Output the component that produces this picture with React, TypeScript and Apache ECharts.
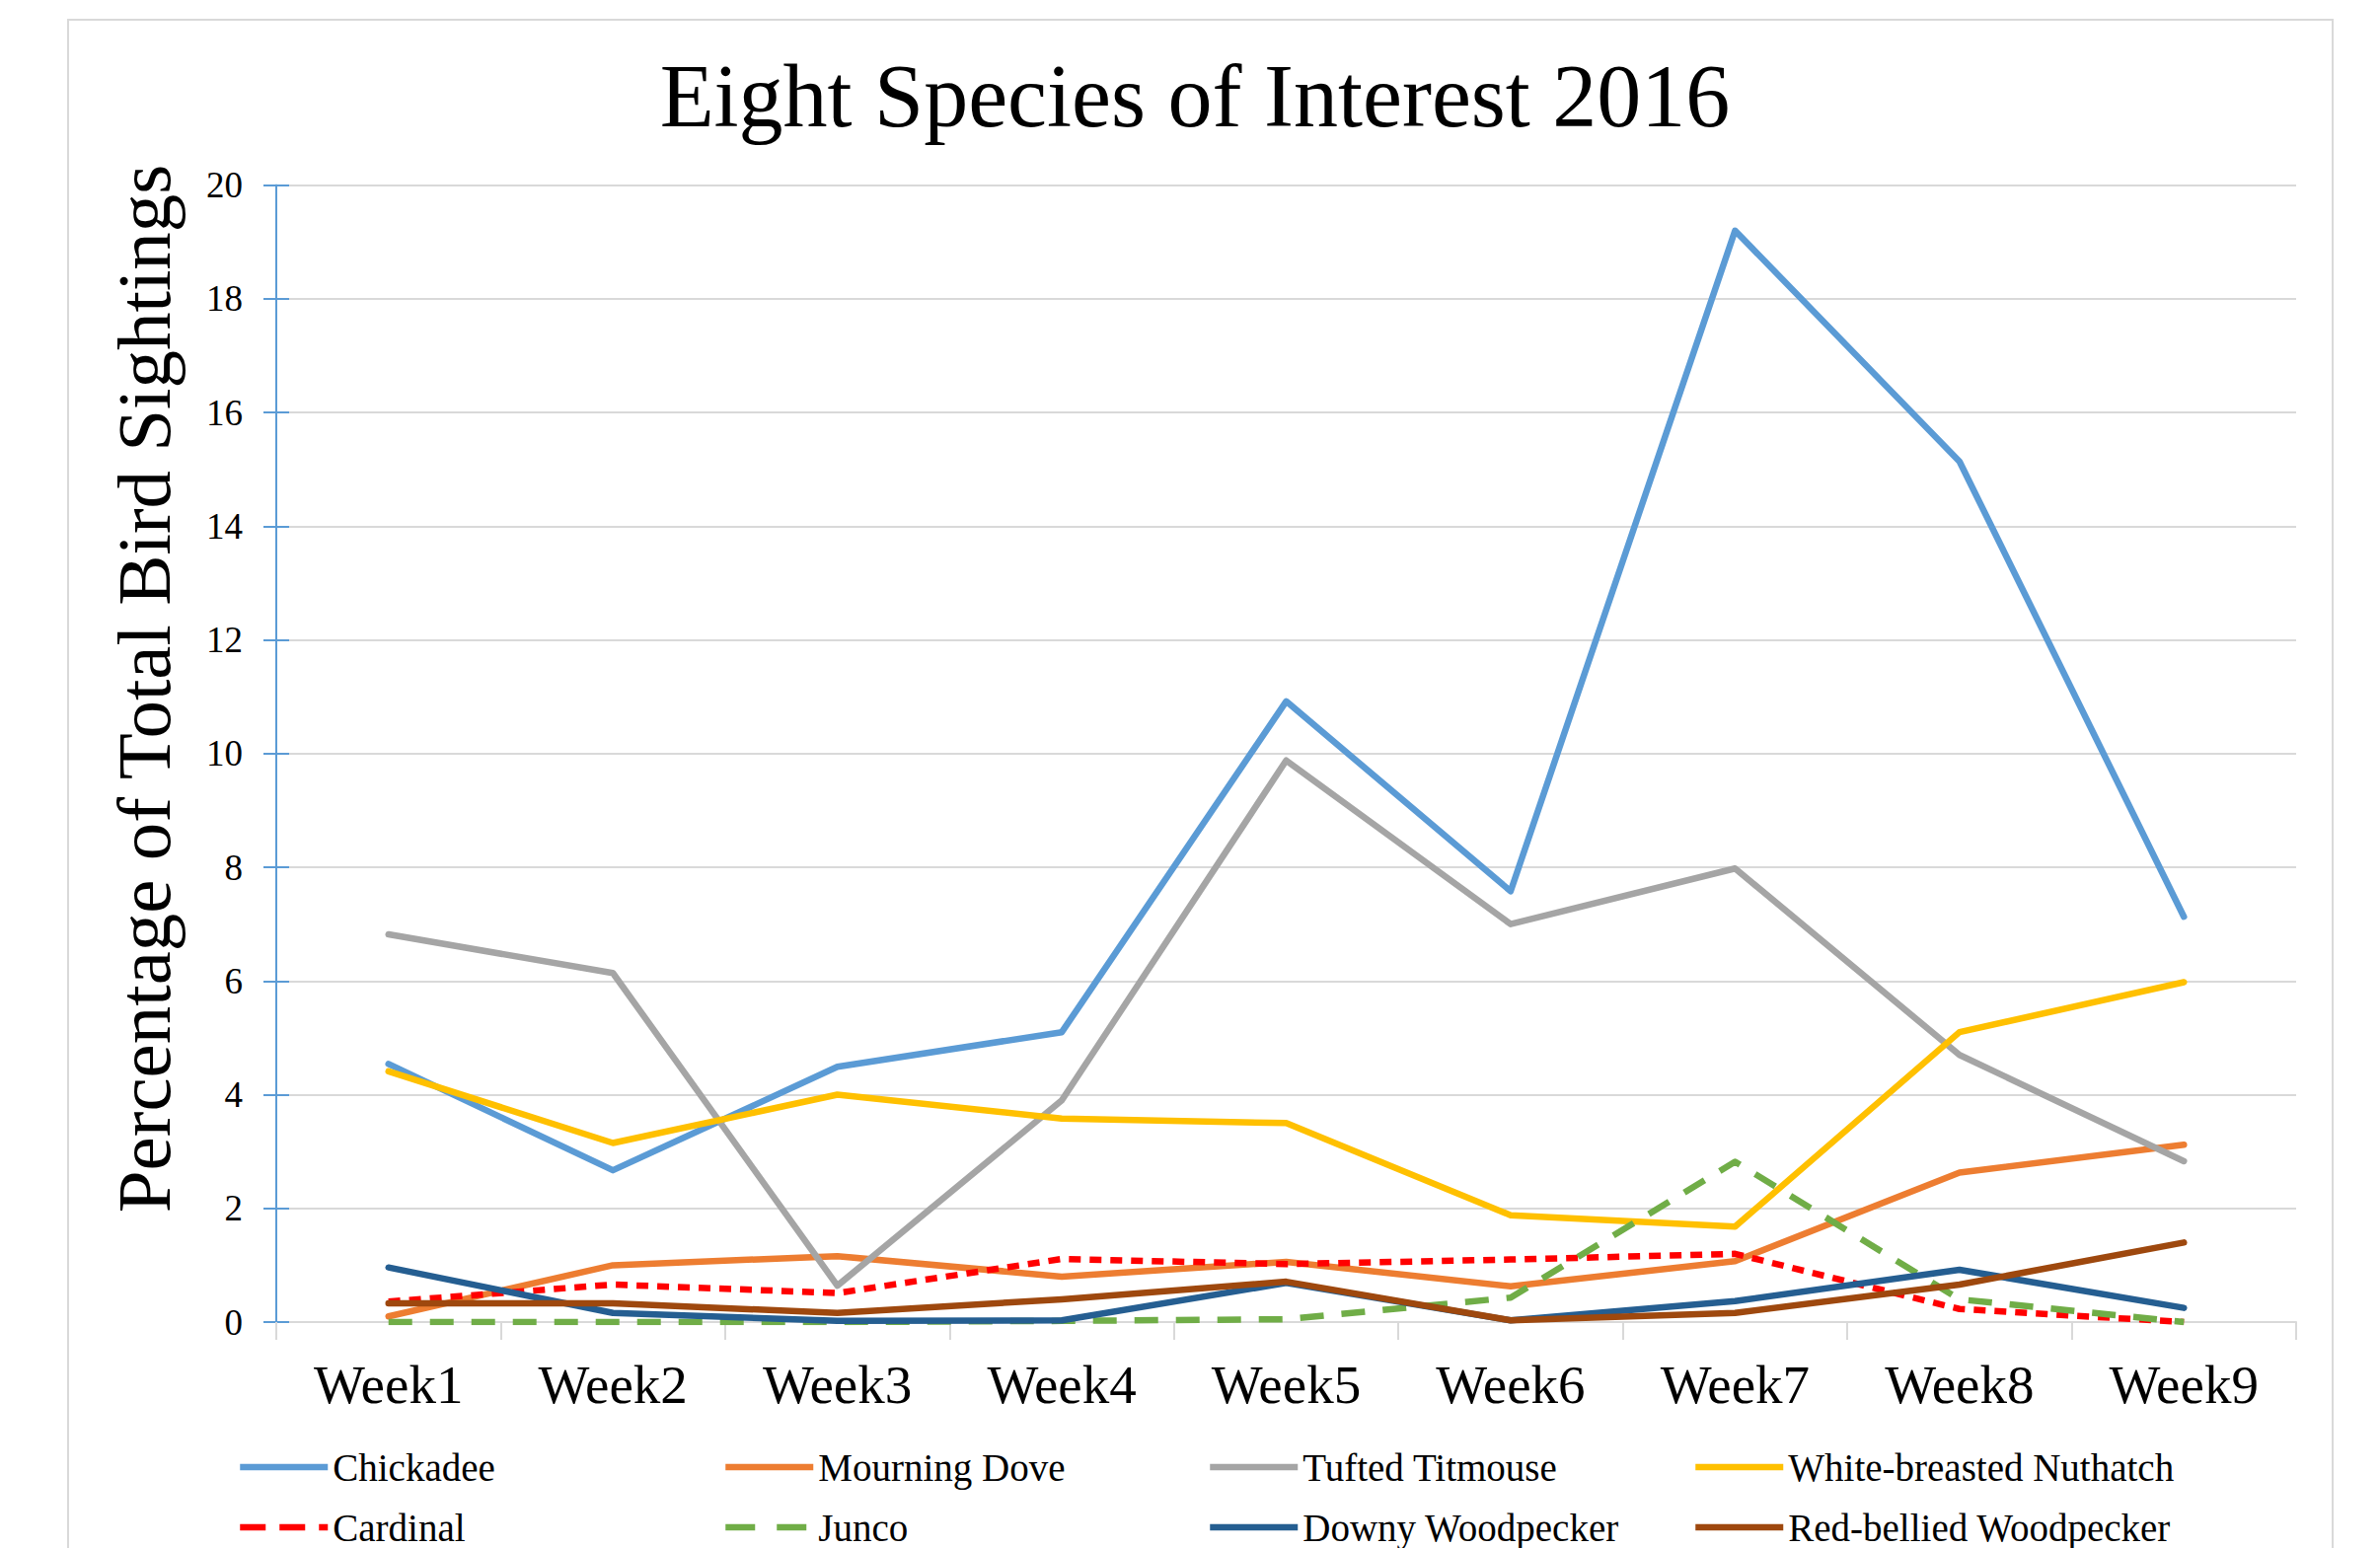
import React, { useEffect, useRef } from "react";
import * as echarts from "echarts";

const weeks = ["Week1", "Week2", "Week3", "Week4", "Week5", "Week6", "Week7", "Week8", "Week9"];
const yTicks = [0, 2, 4, 6, 8, 10, 12, 14, 16, 18, 20];

const chickadee = [4.54, 2.67, 4.49, 5.1, 10.92, 7.58, 19.2, 15.14, 7.13];
const mourningDove = [0.1, 1.0, 1.16, 0.8, 1.06, 0.63, 1.07, 2.63, 3.12];
const tuftedTitmouse = [6.82, 6.14, 0.64, 3.9, 9.88, 7.0, 7.98, 4.7, 2.83];
const nuthatch = [4.41, 3.15, 4.0, 3.58, 3.5, 1.88, 1.68, 5.1, 5.98];
const cardinal = [0.36, 0.66, 0.51, 1.11, 1.02, 1.1, 1.2, 0.23, 0.0];
const junco = [0, 0, 0, 0.02, 0.05, 0.43, 2.82, 0.4, 0];
const downyWoodpecker = [0.96, 0.16, 0.02, 0.03, 0.69, 0.03, 0.37, 0.92, 0.25];
const redBelliedWoodpecker = [0.33, 0.33, 0.16, 0.4, 0.71, 0.03, 0.16, 0.66, 1.4];

const seriesNames = [
  "Chickadee",
  "Mourning Dove",
  "Tufted Titmouse",
  "White-breasted Nuthatch",
  "Cardinal",
  "Junco",
  "Downy Woodpecker",
  "Red-bellied Woodpecker",
];
const seriesData = [
  chickadee,
  mourningDove,
  tuftedTitmouse,
  nuthatch,
  cardinal,
  junco,
  downyWoodpecker,
  redBelliedWoodpecker,
];
const seriesColors = ["#5b9bd5", "#ed7d31", "#a5a5a5", "#ffc000", "#ff0000", "#70ad47", "#255e91", "#9e480e"];
const seriesDash: (number[] | "solid")[] = ["solid", "solid", "solid", "solid", [12, 9], [24, 18], "solid", "solid"];
const legendDash: (number[] | "solid")[] = ["solid", "solid", "solid", "solid", [26, 14], [30, 22], "solid", "solid"];

const FONT = "'Liberation Serif', 'Times New Roman', serif";

export default function App() {
  const ref = useRef<HTMLDivElement>(null);
  useEffect(() => {
    if (!ref.current) return;
    const chart = echarts.init(ref.current, undefined, { renderer: "svg" });

    const series = seriesNames.map((name, i) => ({
      name,
      type: "line",
      data: seriesData[i],
      symbol: "none",
      showSymbol: false,
      lineStyle: {
        color: seriesColors[i],
        width: 6.5,
        type: seriesDash[i],
        cap: seriesDash[i] === "solid" ? "round" : "butt",
        join: "round",
      },
      itemStyle: { color: seriesColors[i] },
      z: 3 + i,
    }));

    const colLefts = [240, 732, 1223, 1715];
    const rowTops = [1465, 1526];
    const legends = seriesNames.map((name, idx) => ({
      orient: "horizontal",
      left: colLefts[idx % 4],
      top: rowTops[Math.floor(idx / 4)],
      padding: 0,
      itemWidth: 89,
      itemHeight: 14,
      selectedMode: false,
      textStyle: { fontFamily: FONT, fontSize: 39, color: "#000", lineHeight: 44 },
      data: [
        {
          name,
          itemStyle: { color: "rgba(0,0,0,0)", opacity: 0, borderWidth: 0 },
          lineStyle: {
            color: seriesColors[idx],
            width: 6.5,
            type: legendDash[idx],
            cap: "butt",
          },
        },
      ],
    }));

    chart.setOption({
      animation: false,
      backgroundColor: "#ffffff",
      grid: { left: 280, right: 85, top: 187.7, bottom: 229, containLabel: false },
      legend: legends,
      xAxis: {
        type: "category",
        data: weeks,
        boundaryGap: true,
        axisLine: { show: true, lineStyle: { color: "#d9d9d9", width: 2 } },
        axisTick: { show: true, length: 18, lineStyle: { color: "#d9d9d9", width: 2 } },
        axisLabel: { interval: 0, fontFamily: FONT, fontSize: 55, color: "#000", margin: 36 },
        splitLine: { show: false },
      },
      yAxis: [
        {
          type: "value",
          min: yTicks[0],
          max: yTicks[yTicks.length - 1],
          interval: 2,
          axisLine: { show: true, lineStyle: { color: "#5b9bd5", width: 2 } },
          axisTick: { show: true, length: 13, lineStyle: { color: "#5b9bd5", width: 2 } },
          axisLabel: { fontFamily: FONT, fontSize: 37, color: "#000", margin: 34 },
          splitLine: { show: true, lineStyle: { color: "#d9d9d9", width: 2 } },
        },
        {
          type: "value",
          position: "left",
          min: yTicks[0],
          max: yTicks[yTicks.length - 1],
          interval: 2,
          axisLine: { show: true, lineStyle: { color: "#5b9bd5", width: 2 } },
          axisTick: { show: true, inside: true, length: 13, lineStyle: { color: "#5b9bd5", width: 2 } },
          axisLabel: { show: false },
          splitLine: { show: false },
        },
      ],
      series,
      graphic: [
        {
          type: "rect",
          shape: { x: 69, y: 20, width: 2295, height: 1600 },
          style: { fill: "none", stroke: "#d9d9d9", lineWidth: 2 },
          z: 0,
        },
        {
          type: "text",
          x: 1211,
          y: 97,
          style: {
            text: "Eight Species of Interest 2016",
            fontFamily: FONT,
            fontSize: 90,
            fill: "#000",
            textAlign: "center",
            textVerticalAlign: "middle",
          },
        },
        {
          type: "text",
          x: 146,
          y: 698,
          rotation: Math.PI / 2,
          style: {
            text: "Percentage of Total Bird Sightings",
            fontFamily: FONT,
            fontSize: 77,
            fill: "#000",
            textAlign: "center",
            textVerticalAlign: "middle",
          },
        },
      ],
    });
    return () => chart.dispose();
  }, []);
  return (
    <div
      ref={ref}
      style={{ position: "fixed", left: 0, top: 0, width: 2412, height: 1569, background: "#fff" }}
    />
  );
}
